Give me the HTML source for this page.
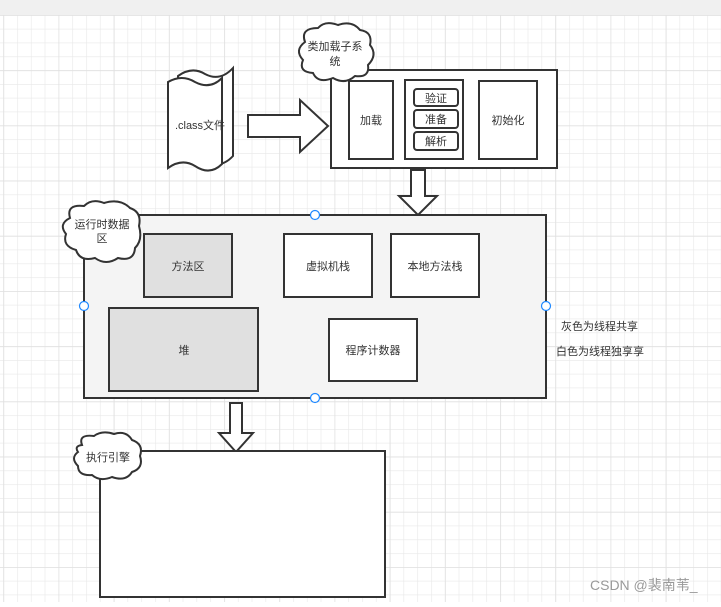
<!DOCTYPE html>
<html><head><meta charset="utf-8">
<style>
html,body{margin:0;padding:0;}
body{width:721px;height:602px;overflow:hidden;background:#fff;font-family:"Liberation Sans","Noto Sans CJK SC",sans-serif;}
</style></head><body>
<svg width="721" height="602" xmlns="http://www.w3.org/2000/svg" font-family="Liberation Sans, Noto Sans CJK SC, sans-serif">
<defs>
<pattern id="g" x="3.3" y="15" width="13.8" height="13.8" patternUnits="userSpaceOnUse">
<path d="M0 0H13.8M0 0V13.8" stroke="#e8e8e8" stroke-width="1.2" fill="none"/>
</pattern>
<pattern id="G" x="3.3" y="15" width="55.2" height="55.2" patternUnits="userSpaceOnUse">
<path d="M0 0H55.2M0 0V55.2" stroke="#e0e0e0" stroke-width="1.5" fill="none"/>
</pattern>
</defs>
<rect width="721" height="602" fill="#fff"/>
<rect width="721" height="602" fill="url(#g)"/>
<rect width="721" height="602" fill="url(#G)"/>
<rect width="721" height="15" fill="#f0f0f0"/>

<g stroke="#333" stroke-width="2" fill="#fff">
<!-- class file doc -->
<path d="M178 76 Q192 66 205 74 Q220 82 233 68 L233 156 Q220 170 205 160 Q192 152 178 160 Z"/>
<path d="M168 82 Q182 74 195 82 Q210 90 222 78 L222 164 Q210 176 195 166 Q182 158 168 168 Z"/>
<!-- arrow right -->
<path d="M248 115 H300 V100 L328 126 L300 152 V137 H248 Z"/>
<!-- class loader -->
<rect x="331" y="70" width="226" height="98"/>
<rect x="349" y="81" width="44" height="78"/>
<rect x="405" y="80" width="58" height="79"/>
<rect x="414" y="89" width="44" height="17" rx="3"/>
<rect x="414" y="110" width="44" height="18" rx="3"/>
<rect x="414" y="132" width="44" height="18" rx="3"/>
<rect x="479" y="81" width="58" height="78"/>
<!-- cloud 1 -->
<path d="M305 42 Q300 28 318 28 Q325 20 338 25 Q352 20 360 30 Q373 32 370 45 Q378 55 368 65 Q370 78 355 76 Q345 85 333 78 Q318 84 313 73 Q298 72 303 60 Q294 50 305 42 Z"/>
<!-- down arrow 1 -->
<path d="M411 170 H425 V196 H437 L418 215 L399 196 H411 Z"/>
<!-- runtime -->
<rect x="84" y="215" width="462" height="183" fill="#f4f4f4"/>
<rect x="144" y="234" width="88" height="63" fill="#e0e0e0"/>
<rect x="284" y="234" width="88" height="63"/>
<rect x="391" y="234" width="88" height="63"/>
<rect x="109" y="308" width="149" height="83" fill="#e0e0e0"/>
<rect x="329" y="319" width="88" height="62"/>
<!-- cloud 2 -->
<path d="M70 218 Q66 204 84 206 Q92 198 104 203 Q120 198 130 208 Q142 212 139 226 Q143 240 135 248 Q134 262 118 258 Q106 266 95 258 Q80 262 76 250 Q62 246 66 234 Q58 224 70 218 Z"/>
<!-- down arrow 2 -->
<path d="M230 403 H242 V433 H253 L236 452 L219 433 H230 Z"/>
<!-- exec -->
<rect x="100" y="451" width="285" height="146"/>
<!-- cloud 3 -->
<path d="M82 445 Q78 434 94 436 Q102 430 114 434 Q126 430 132 440 Q144 444 140 456 Q144 468 132 472 Q126 482 112 477 Q100 482 92 475 Q78 476 78 466 Q70 458 78 452 Q74 446 82 445 Z"/>
</g>

<g fill="#fff" stroke="#1e88ff" stroke-width="1.2">
<circle cx="315" cy="215" r="4.5"/><circle cx="84" cy="306" r="4.5"/>
<circle cx="546" cy="306" r="4.5"/><circle cx="315" cy="398" r="4.5"/>
</g>

<g font-size="11" fill="#333" text-anchor="middle">
<text x="200" y="129">.class文件</text>
<text x="371" y="124">加载</text>
<text x="436" y="102">验证</text>
<text x="436" y="123">准备</text>
<text x="436" y="145">解析</text>
<text x="508" y="124">初始化</text>
<text x="335" y="50">类加载子系</text>
<text x="335" y="65">统</text>
<text x="102" y="228">运行时数据</text>
<text x="102" y="242">区</text>
<text x="188" y="270">方法区</text>
<text x="328" y="270">虚拟机栈</text>
<text x="435" y="270">本地方法栈</text>
<text x="184" y="354">堆</text>
<text x="373" y="354">程序计数器</text>
<text x="108" y="461">执行引擎</text>
</g>
<g font-size="11" fill="#333">
<text x="561" y="330">灰色为线程共享</text>
<text x="556" y="355">白色为线程独享享</text>
</g>
<text x="590" y="590" font-size="14" fill="#999">CSDN @裴南苇_</text>
</svg>
</body></html>
